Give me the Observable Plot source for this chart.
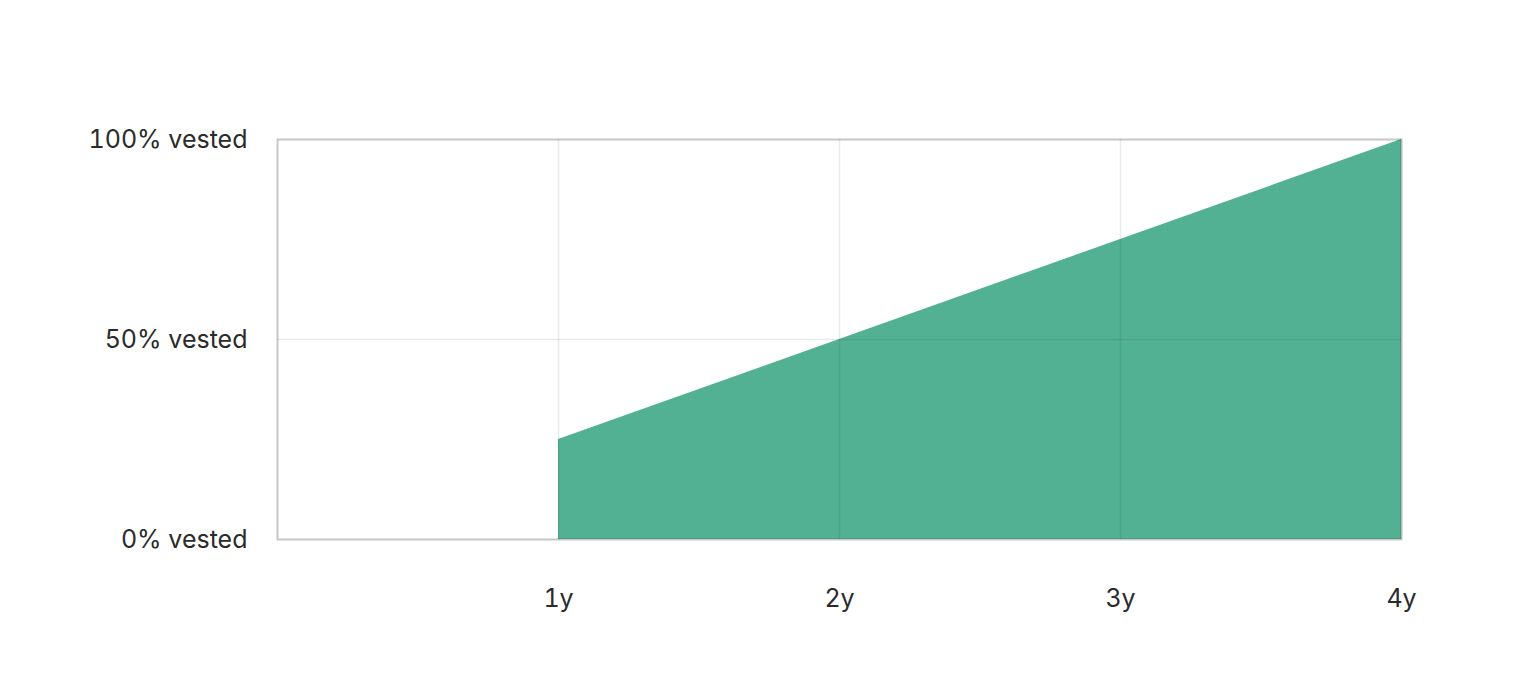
<!DOCTYPE html>
<html>
<head>
<meta charset="utf-8">
<script src="https://cdn.jsdelivr.net/npm/d3@7"></script>
<script src="https://cdn.jsdelivr.net/npm/@observablehq/plot@0.6"></script>
<style>
  html, body { margin: 0; padding: 0; background: #fff; }
  #chart svg { display: block; }
</style>
</head>
<body>
<div id="chart"></div>
<script>
const years = [1, 2, 3, 4];
const vested = [25, 50, 75, 100];
const xTicks = [1, 2, 3, 4];
const xTickLabels = ["1y", "2y", "3y", "4y"];
const yTicks = [0, 50, 100];
const yTickLabels = ["0% vested", "50% vested", "100% vested"];

const data = years.map((t, i) => ({t, v: vested[i]}));

const chart = Plot.plot({
  width: 1540,
  height: 698,
  marginLeft: 277,
  marginRight: 139,
  marginTop: 139,
  marginBottom: 159,
  style: {fontFamily: "Inter, 'Noto Sans', sans-serif", fontSize: "25px", color: "#2b2b2b", background: "#fff"},
  x: {domain: [0, 4]},
  y: {domain: [0, 100]},
  marks: [
    Plot.areaY(data, {x: "t", y: "v", fill: "#53b193"}),
    Plot.gridX(xTicks, {stroke: "#000", strokeOpacity: 0.08, strokeWidth: 1.5}),
    Plot.gridY([50], {stroke: "#000", strokeOpacity: 0.08, strokeWidth: 1.5}),
    Plot.frame({stroke: "#000", strokeOpacity: 0.22, strokeWidth: 2}),
    Plot.axisX(xTicks, {tickSize: 0, tickPadding: 50, tickFormat: (d, i) => xTickLabels[i], fontSize: 25, fill: "#2b2b2b", label: null}),
    Plot.axisY(yTicks, {tickSize: 0, tickPadding: 30, tickFormat: (d, i) => yTickLabels[i], fontSize: 25, fill: "#2b2b2b", label: null})
  ]
});
document.getElementById("chart").appendChild(chart);
</script>
</body>
</html>
